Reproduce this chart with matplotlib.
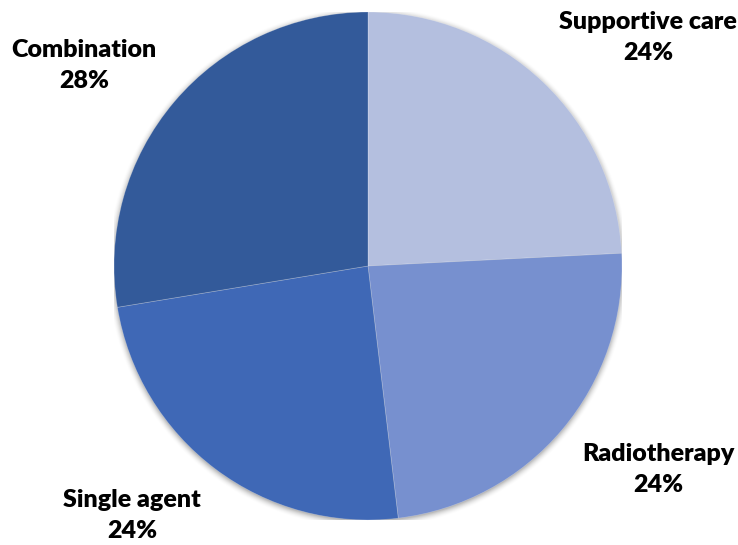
import matplotlib.pyplot as plt
import numpy as np

# treatment shares, clockwise from 12 o'clock
labels = ['Supportive care', 'Radiotherapy', 'Single agent', 'Combination']
shares = [24.2, 23.9, 24.3, 27.6]
colors = ['#B4BFDF', '#7790CF', '#3F68B6', '#335A9A']

# label anchor points in axes data units (pie radius = 1)
label_xy = [(1.102, 0.900), (1.142, -0.803), (-0.929, -0.982), (-1.118, 0.790)]

fig = plt.figure(facecolor='white', figsize=(7.38, 5.45), dpi=100)
ax = fig.add_axes([114 / 738, 25 / 545, 508 / 738, 508 / 545])

# soft drop shadow behind the pie
g = np.linspace(-1.1, 1.1, 600)
xx, yy = np.meshgrid(g, g)
r = np.hypot(xx, yy + 0.006)
shade = np.clip(1 - (r - 0.995) / 0.035, 0, 1) ** 2 * 0.35
rgba = np.zeros((600, 600, 4))
rgba[..., 3] = shade
ax.imshow(rgba, extent=(-1.1, 1.1, -1.1, 1.1), origin='lower', zorder=0,
          interpolation='bilinear')

wedges, _, autotexts = ax.pie(shares, colors=colors, startangle=90, counterclock=False,
                              radius=1, autopct='%.0f%%', pctdistance=0,
                              wedgeprops=dict(edgecolor=(1, 1, 1, 0.3), linewidth=0.5))
for w in wedges:
    w.set_zorder(2)

for t, name, (x, y) in zip(autotexts, labels, label_xy):
    t.set_visible(False)
    ax.text(x, y, name + '\n' + t.get_text(), ha='center', va='center',
            fontsize=18, fontweight='heavy', family='Lato', linespacing=1.5,
            color='black', clip_on=False)

ax.set_xlim(-1, 1)
ax.set_ylim(-1, 1)
ax.set_aspect('auto')
ax.axis('off')

fig.savefig('out.png', dpi=100, facecolor='white')
